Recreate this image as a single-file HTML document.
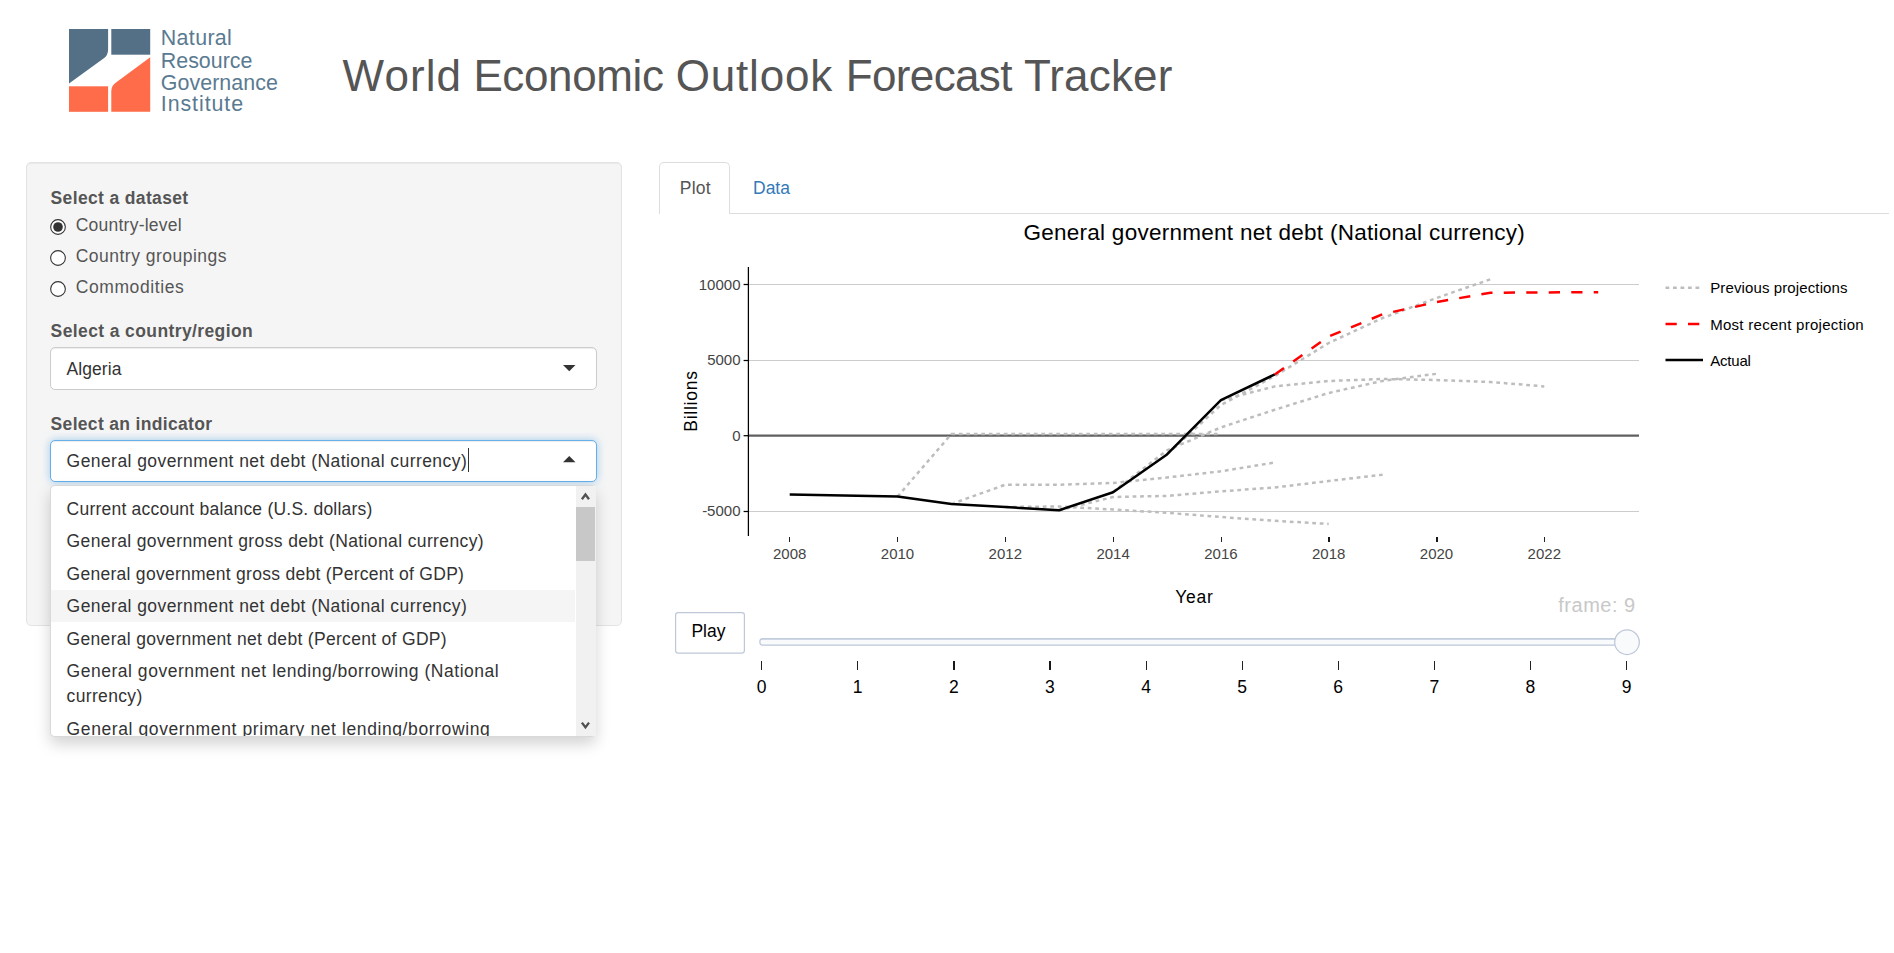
<!DOCTYPE html>
<html><head><meta charset="utf-8"><title>World Economic Outlook Forecast Tracker</title>
<style>
html,body{margin:0;padding:0;background:#fff;}
body{width:1894px;height:953px;position:relative;overflow:hidden;font-family:"Liberation Sans",sans-serif;color:#333;}
.a{position:absolute;}
.t{position:absolute;white-space:nowrap;line-height:1;}
.rad{position:absolute;width:13.3px;height:13.3px;border:1.3px solid #333;border-radius:50%;background:#fff;}
.rad.on::after{content:"";position:absolute;left:1.75px;top:1.75px;width:9.8px;height:9.8px;border-radius:50%;background:#333;}
.sel{position:absolute;left:50px;width:545px;height:41px;background:#fff;border:1px solid #ccc;border-radius:5px;box-shadow:inset 0 1px 1px rgba(0,0,0,.075);}
</style></head>
<body>
<svg class="a" style="left:64px;top:24px" width="92" height="92" viewBox="0 0 92 92">
<path d="M5,5 H44.1 V25.5 Q44.1,31.5 39.5,34.5 L5,59.4 Z" fill="#537087"/>
<rect x="47.3" y="5" width="38.9" height="25.7" fill="#537087"/>
<rect x="5" y="62.3" width="39.1" height="25.5" fill="#ff6c4a"/>
<path d="M86.2,33.3 V87.8 H47.3 V67 Q47.3,61.5 52,58.5 Z" fill="#ff6c4a"/>
</svg>
<div class="t" style="left:160.80px;top:27.98px;font-size:21.4px;color:#5a7a91;letter-spacing:0.35px;">Natural</div>
<div class="t" style="left:160.80px;top:50.78px;font-size:21.4px;color:#5a7a91;letter-spacing:0px;">Resource</div>
<div class="t" style="left:160.80px;top:72.88px;font-size:21.4px;color:#5a7a91;letter-spacing:0.06px;">Governance</div>
<div class="t" style="left:160.80px;top:94.38px;font-size:21.4px;color:#5a7a91;letter-spacing:0.92px;">Institute</div>
<div class="t" style="left:342.60px;top:53.55px;font-size:44px;color:#555;letter-spacing:1.07px;">World</div>
<div class="t" style="left:473.40px;top:53.55px;font-size:44px;color:#555;letter-spacing:-0.37px;">Economic</div>
<div class="t" style="left:675.80px;top:53.55px;font-size:44px;color:#555;letter-spacing:0.79px;">Outlook</div>
<div class="t" style="left:845.70px;top:53.55px;font-size:44px;color:#555;letter-spacing:-0.63px;">Forecast</div>
<div class="t" style="left:1023.90px;top:53.55px;font-size:44px;color:#555;letter-spacing:0.16px;">Tracker</div>
<div class="a" style="left:26px;top:162px;width:594px;height:462px;background:#f5f5f5;border:1px solid #e3e3e3;border-radius:5px;box-shadow:inset 0 1px 1px rgba(0,0,0,.05)"></div>
<div class="t" style="left:50.60px;top:190.09px;font-size:17.5px;color:#555;font-weight:bold;letter-spacing:0.35px;">Select a dataset</div>
<svg class="a" style="left:49px;top:217.90px" width="18" height="18"><circle cx="9" cy="9" r="7.35" fill="#fff" stroke="#333" stroke-width="1.1"/><circle cx="9" cy="9" r="4.8" fill="#333"/></svg>
<div class="t" style="left:75.70px;top:217.19px;font-size:17.5px;color:#555;letter-spacing:0.24px;">Country-level</div>
<svg class="a" style="left:49px;top:248.95px" width="18" height="18"><circle cx="9" cy="9" r="7.35" fill="#fff" stroke="#333" stroke-width="1.1"/></svg>
<div class="t" style="left:75.70px;top:248.29px;font-size:17.5px;color:#555;letter-spacing:0.49px;">Country groupings</div>
<svg class="a" style="left:49px;top:280.05px" width="18" height="18"><circle cx="9" cy="9" r="7.35" fill="#fff" stroke="#333" stroke-width="1.1"/></svg>
<div class="t" style="left:75.70px;top:278.99px;font-size:17.5px;color:#555;letter-spacing:0.59px;">Commodities</div>
<div class="t" style="left:50.60px;top:323.49px;font-size:17.5px;color:#555;font-weight:bold;letter-spacing:0.39px;">Select a country/region</div>
<div class="sel" style="top:347px"></div>
<div class="t" style="left:66.60px;top:360.89px;font-size:17.5px;color:#333;letter-spacing:0.05px;">Algeria</div>
<svg class="a" style="left:562.5px;top:365.1px" width="13" height="7"><path d="M0,0 H12.5 L6.25,6.25 Z" fill="#333"/></svg>
<div class="t" style="left:50.60px;top:415.59px;font-size:17.5px;color:#555;font-weight:bold;letter-spacing:0.32px;">Select an indicator</div>
<div class="sel" style="top:440px;height:40px;border-color:#66afe9;box-shadow:inset 0 1px 1px rgba(0,0,0,.075),0 0 8px rgba(102,175,233,.6)"></div>
<div class="t" style="left:66.60px;top:453.09px;font-size:17.5px;color:#333;letter-spacing:0.43px;">General government net debt (National currency)</div>
<div class="a" style="left:467.6px;top:448px;width:1.25px;height:24.4px;background:#333"></div>
<svg class="a" style="left:562.5px;top:456px" width="13" height="7"><path d="M0,6.25 H12.5 L6.25,0 Z" fill="#333"/></svg>
<div class="a" style="left:50px;top:485px;width:544px;height:250px;background:#fff;border:1px solid rgba(0,0,0,.15);border-radius:5px;box-shadow:0 7px 15px rgba(0,0,0,.175);overflow:hidden">
 <div class="a" style="left:0;top:104px;width:524px;height:32px;background:#f5f5f5"></div>
</div>
<div class="a" style="left:576px;top:486px;width:20px;height:250px;background:#f1f1f1"></div>
<div class="a" style="left:576px;top:507px;width:19px;height:54px;background:#c8c8c8"></div>
<svg class="a" style="left:580px;top:490px" width="12" height="12"><path d="M1.9,9.3 L5.45,4.5 L9.0,9.3" fill="none" stroke="#505050" stroke-width="2.3"/></svg>
<svg class="a" style="left:580px;top:718px" width="12" height="12"><path d="M1.9,4.6 L5.45,9.4 L9.0,4.6" fill="none" stroke="#505050" stroke-width="2.3"/></svg>
<div class="t" style="left:66.60px;top:501.19px;font-size:17.5px;color:#333;letter-spacing:0.22px;">Current account balance (U.S. dollars)</div>
<div class="t" style="left:66.60px;top:533.49px;font-size:17.5px;color:#333;letter-spacing:0.38px;">General government gross debt (National currency)</div>
<div class="t" style="left:66.60px;top:565.89px;font-size:17.5px;color:#333;letter-spacing:0.27px;">General government gross debt (Percent of GDP)</div>
<div class="t" style="left:66.60px;top:598.19px;font-size:17.5px;color:#333;letter-spacing:0.43px;">General government net debt (National currency)</div>
<div class="t" style="left:66.60px;top:630.69px;font-size:17.5px;color:#333;letter-spacing:0.31px;">General government net debt (Percent of GDP)</div>
<div class="t" style="left:66.60px;top:662.99px;font-size:17.5px;color:#333;letter-spacing:0.52px;">General government net lending/borrowing (National</div>
<div class="t" style="left:66.60px;top:688.19px;font-size:17.5px;color:#333;letter-spacing:0.34px;">currency)</div>
<div class="a" style="left:51.6px;top:710px;width:524px;height:25.6px;overflow:hidden"><div class="t" style="left:15.00px;top:10.79px;font-size:17.5px;color:#333;letter-spacing:0.6px;">General government primary net lending/borrowing</div></div>
<div class="a" style="left:659px;top:212.9px;width:1230px;height:1.25px;background:#ddd"></div>
<div class="a" style="left:659px;top:162px;width:68.5px;height:51px;background:#fff;border:1.25px solid #ddd;border-bottom:none;border-radius:5px 5px 0 0"></div>
<div class="t" style="left:679.80px;top:180.19px;font-size:17.5px;color:#555;letter-spacing:0.23px;">Plot</div>
<div class="t" style="left:753.00px;top:180.19px;font-size:17.5px;color:#337ab7;">Data</div>
<div class="t" style="left:1023.40px;top:221.95px;font-size:22.5px;color:#000;letter-spacing:0.27px;">General government net debt (National currency)</div>
<svg class="a" style="left:0;top:0" width="1894" height="953">
<g stroke="#cccccc" stroke-width="1">
<line x1="749" y1="284.5" x2="1639" y2="284.5"/>
<line x1="749" y1="360.5" x2="1639" y2="360.5"/>
<line x1="749" y1="511.5" x2="1639" y2="511.5"/>
</g>
<line x1="749" y1="435.7" x2="1639" y2="435.7" stroke="#606060" stroke-width="2.2"/>
<line x1="748.4" y1="267" x2="748.4" y2="536" stroke="#000" stroke-width="1.25"/>
<g stroke="#000" stroke-width="1.25">
<line x1="743.6" y1="284.5" x2="748" y2="284.5"/>
<line x1="743.6" y1="360.5" x2="748" y2="360.5"/>
<line x1="743.6" y1="435.7" x2="748" y2="435.7"/>
<line x1="743.6" y1="511.5" x2="748" y2="511.5"/>
</g>
<rect x="789" y="537" width="1" height="5" fill="#222"/>
<rect x="897" y="537" width="1" height="5" fill="#222"/>
<rect x="1005" y="537" width="1" height="5" fill="#222"/>
<rect x="1113" y="537" width="1" height="5" fill="#222"/>
<rect x="1221" y="537" width="1" height="5" fill="#222"/>
<rect x="1328" y="537" width="2" height="5" fill="#181818"/>
<rect x="1436" y="537" width="2" height="5" fill="#181818"/>
<rect x="1544" y="537" width="1" height="5" fill="#222"/>
<g fill="none" stroke="#bdbdbd" stroke-width="2.5" stroke-dasharray="3.75,3.75">
<polyline points="897.5,496.6 951.4,434 1005.3,434 1059.2,434 1113.1,434 1167.0,434 1220.9,434"/>
<polyline points="951.4,504 1005.3,484.7 1059.2,484.7 1113.1,483 1167.0,477.5 1220.9,471.3 1274.8,462.5"/>
<polyline points="1005.3,507 1059.2,506.5 1113.1,509.5 1167.0,512.8 1220.9,517 1274.8,520.8 1328.7,523.9"/>
<polyline points="1059.2,510.2 1113.1,497 1167.0,495.9 1220.9,491.3 1274.8,487.5 1328.7,481 1382.6,474.7"/>
<polyline points="1113.1,491.8 1167.0,450.4 1220.9,427.4 1274.8,409.7 1328.7,393 1382.6,380.9 1436.5,373.8"/>
<polyline points="1167.0,454.4 1220.9,405 1274.8,376 1328.7,343 1382.6,318 1436.5,298 1490.4,279.3"/>
<polyline points="1220.9,400.2 1274.8,386.4 1328.7,381 1382.6,379 1436.5,380 1490.4,382 1544.3,386.4"/>
</g>
<polyline fill="none" stroke="#000" stroke-width="2.5" stroke-linejoin="round" points="789.7,494.6 843.6,495.6 897.5,496.6 951.4,504 1005.3,507 1059.2,510.2 1113.1,492.2 1167.0,454.4 1220.9,400.2 1274.8,374.4"/>
<polyline fill="none" stroke="#f00" stroke-width="2.5" stroke-dasharray="11.25,11.25" points="1274.8,374.4 1328.7,336.5 1382.6,314.3 1436.5,302 1490.4,292.8 1544.3,292.4 1598.2,292.2"/>
<line x1="1665.5" y1="287.7" x2="1703" y2="287.7" stroke="#bdbdbd" stroke-width="2.5" stroke-dasharray="3.75,3.75"/>
<line x1="1665.5" y1="323.9" x2="1703" y2="323.9" stroke="#f00" stroke-width="2.5" stroke-dasharray="11.25,11.25"/>
<line x1="1665.5" y1="360" x2="1703" y2="360" stroke="#000" stroke-width="2.5"/>
<rect x="759.9" y="638.8" width="868" height="6.25" rx="2.5" fill="#f8fafc" stroke="#bec8d9" stroke-width="1.25"/><line x1="761" y1="638.9" x2="1620" y2="638.9" stroke="#bec8d9" stroke-width="1"/>
<circle cx="1627" cy="642.2" r="12.3" fill="#f8fafc" stroke="#bec8d9" stroke-width="1.25"/>
<rect x="761" y="661" width="1" height="9" fill="#222"/>
<rect x="857" y="661" width="1" height="9" fill="#222"/>
<rect x="953" y="661" width="2" height="9" fill="#181818"/>
<rect x="1049" y="661" width="2" height="9" fill="#181818"/>
<rect x="1146" y="661" width="1" height="9" fill="#222"/>
<rect x="1242" y="661" width="1" height="9" fill="#222"/>
<rect x="1338" y="661" width="1" height="9" fill="#222"/>
<rect x="1434" y="661" width="1" height="9" fill="#222"/>
<rect x="1530" y="661" width="1" height="9" fill="#222"/>
<rect x="1626" y="661" width="1" height="9" fill="#222"/>
<rect x="675.6" y="612.5" width="68.8" height="40.6" rx="2.5" fill="#fff" stroke="#bec8d9" stroke-width="1.25"/>
</svg>
<div class="t" style="right:1153.50px;top:276.90px;font-size:15px;color:#444;">10000</div>
<div class="t" style="right:1153.50px;top:351.90px;font-size:15px;color:#444;">5000</div>
<div class="t" style="right:1153.50px;top:428.10px;font-size:15px;color:#444;">0</div>
<div class="t" style="right:1153.50px;top:502.90px;font-size:15px;color:#444;">-5000</div>
<div class="t" style="left:739.70px;width:100px;text-align:center;top:546.30px;font-size:15px;color:#444;">2008</div>
<div class="t" style="left:847.50px;width:100px;text-align:center;top:546.30px;font-size:15px;color:#444;">2010</div>
<div class="t" style="left:955.30px;width:100px;text-align:center;top:546.30px;font-size:15px;color:#444;">2012</div>
<div class="t" style="left:1063.10px;width:100px;text-align:center;top:546.30px;font-size:15px;color:#444;">2014</div>
<div class="t" style="left:1170.90px;width:100px;text-align:center;top:546.30px;font-size:15px;color:#444;">2016</div>
<div class="t" style="left:1278.70px;width:100px;text-align:center;top:546.30px;font-size:15px;color:#444;">2018</div>
<div class="t" style="left:1386.50px;width:100px;text-align:center;top:546.30px;font-size:15px;color:#444;">2020</div>
<div class="t" style="left:1494.30px;width:100px;text-align:center;top:546.30px;font-size:15px;color:#444;">2022</div>
<div class="t" style="left:711.60px;width:100px;text-align:center;top:679.19px;font-size:17.5px;color:#000;">0</div>
<div class="t" style="left:807.70px;width:100px;text-align:center;top:679.19px;font-size:17.5px;color:#000;">1</div>
<div class="t" style="left:903.80px;width:100px;text-align:center;top:679.19px;font-size:17.5px;color:#000;">2</div>
<div class="t" style="left:999.90px;width:100px;text-align:center;top:679.19px;font-size:17.5px;color:#000;">3</div>
<div class="t" style="left:1096.00px;width:100px;text-align:center;top:679.19px;font-size:17.5px;color:#000;">4</div>
<div class="t" style="left:1192.10px;width:100px;text-align:center;top:679.19px;font-size:17.5px;color:#000;">5</div>
<div class="t" style="left:1288.20px;width:100px;text-align:center;top:679.19px;font-size:17.5px;color:#000;">6</div>
<div class="t" style="left:1384.30px;width:100px;text-align:center;top:679.19px;font-size:17.5px;color:#000;">7</div>
<div class="t" style="left:1480.40px;width:100px;text-align:center;top:679.19px;font-size:17.5px;color:#000;">8</div>
<div class="t" style="left:1576.50px;width:100px;text-align:center;top:679.19px;font-size:17.5px;color:#000;">9</div>
<div class="t" style="left:1710.20px;top:280.10px;font-size:15px;color:#000;letter-spacing:0.12px;">Previous projections</div>
<div class="t" style="left:1710.20px;top:316.60px;font-size:15px;color:#000;letter-spacing:0.28px;">Most recent projection</div>
<div class="t" style="left:1710.20px;top:352.70px;font-size:15px;color:#000;letter-spacing:-0.2px;">Actual</div>
<div class="t" style="left:1175.30px;top:588.99px;font-size:17.5px;color:#000;letter-spacing:0.7px;">Year</div>
<div class="t" style="left:1558.30px;top:595.07px;font-size:20px;color:#c8c8c8;letter-spacing:0.5px;">frame: 9</div>
<div class="t" style="left:691.40px;top:622.99px;font-size:17.5px;color:#000;">Play</div>
<div class="t" style="left:640.5px;top:391.2px;width:100px;height:20px;text-align:center;font-size:17.5px;letter-spacing:0.75px;color:#000;transform:rotate(-90deg);transform-origin:50% 50%;line-height:20px">Billions</div>
</body></html>
